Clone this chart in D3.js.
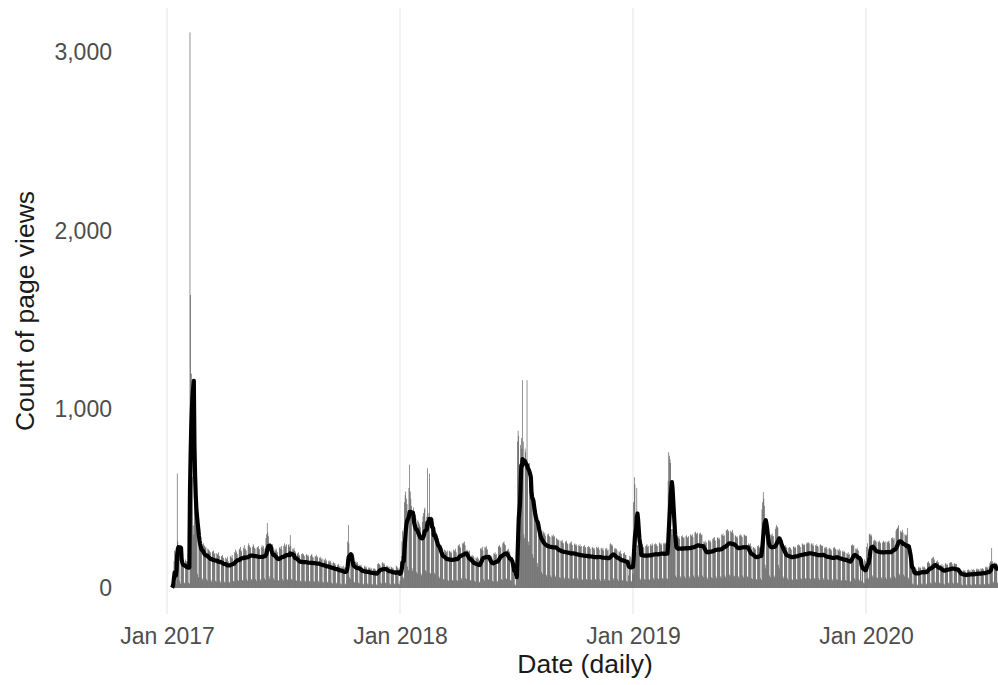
<!DOCTYPE html>
<html>
<head>
<meta charset="utf-8">
<script src="https://cdn.jsdelivr.net/npm/d3@7"></script>
<style>
  body { margin: 0; background: #fff; }
  svg { display: block; }
</style>
</head>
<body>
<svg id="chart" width="998" height="685"></svg>
<script>
// Daily page views. Each row below is one Monday-to-Sunday week,
// the first row starting on Monday 9 January 2017.
const firstDay = "2017-01-09";

const dailyViews2017 = [
  2, 15, 60, 150, 210, 30, 20,
  220, 640, 260, 220, 190, 40, 25,
  190, 170, 160, 150, 160, 30, 25,
  160, 150, 145, 150, 140, 30, 25,
  3110, 1640, 1200, 900, 620, 350, 300,
  560, 480, 420, 380, 330, 80, 60,
  300, 290, 280, 260, 240, 55, 45,
  250, 240, 235, 225, 230, 50, 40,
  220, 215, 210, 205, 200, 45, 35,
  205, 200, 210, 190, 195, 40, 35,
  195, 190, 185, 200, 180, 40, 30,
  180, 175, 185, 170, 165, 35, 30,
  170, 165, 160, 175, 150, 35, 30,
  175, 180, 170, 185, 165, 40, 35,
  200, 215, 195, 205, 190, 45, 40,
  215, 220, 230, 210, 205, 45, 40,
  225, 240, 215, 220, 210, 50, 40,
  235, 250, 240, 230, 225, 50, 45,
  230, 245, 235, 225, 220, 50, 40,
  225, 230, 235, 220, 215, 50, 40,
  230, 240, 225, 235, 220, 55, 45,
  280, 300, 364, 310, 290, 65, 50,
  250, 240, 235, 245, 230, 55, 45,
  215, 210, 220, 205, 200, 45, 40,
  225, 230, 220, 235, 215, 50, 40,
  235, 250, 240, 230, 245, 50, 45,
  240, 245, 230, 296, 235, 50, 45,
  220, 215, 225, 210, 205, 45, 40,
  195, 190, 200, 185, 180, 40, 35,
  190, 195, 185, 190, 180, 40, 35,
  185, 190, 180, 185, 175, 40, 35,
  180, 185, 190, 175, 170, 40, 35,
  180, 175, 185, 170, 175, 40, 30,
  170, 165, 175, 160, 165, 35, 30,
  160, 155, 165, 150, 155, 35, 30,
  150, 155, 145, 150, 140, 30, 25,
  140, 145, 135, 140, 130, 30, 25,
  130, 125, 135, 120, 125, 25, 20,
  120, 115, 125, 110, 115, 25, 20,
  140, 180, 260, 352, 250, 60, 50,
  170, 160, 155, 150, 145, 35, 30,
  145, 150, 140, 145, 135, 30, 25,
  130, 125, 130, 120, 115, 25, 20,
  120, 125, 115, 120, 110, 25, 20,
  115, 110, 115, 105, 110, 20, 20,
  110, 105, 110, 100, 105, 20, 15,
  135, 140, 130, 135, 125, 30, 25,
  140, 145, 135, 140, 130, 30, 25,
  125, 120, 125, 115, 120, 25, 20,
  120, 115, 110, 115, 105, 25, 20,
  100, 125, 120, 115, 110, 25, 20
];

const dailyViews2018 = [
  40, 150, 180, 260, 320, 60, 50,
  480, 520, 540, 500, 470, 120, 100,
  560, 690, 540, 500, 460, 110, 95,
  450, 430, 420, 410, 390, 90, 80,
  380, 370, 360, 350, 340, 80, 70,
  370, 400, 420, 440, 450, 100, 90,
  400, 670, 420, 390, 640, 85, 80,
  400, 390, 380, 370, 360, 85, 75,
  320, 310, 300, 290, 280, 65, 55,
  240, 235, 230, 225, 215, 50, 45,
  215, 210, 205, 200, 210, 45, 40,
  205, 210, 200, 205, 195, 45, 40,
  215, 210, 205, 220, 200, 45, 40,
  235, 240, 245, 230, 225, 55, 45,
  250, 255, 245, 260, 240, 55, 50,
  215, 210, 205, 200, 210, 45, 40,
  180, 185, 175, 180, 170, 40, 35,
  170, 165, 175, 160, 165, 35, 30,
  220, 225, 215, 230, 210, 50, 40,
  230, 225, 235, 220, 215, 50, 45,
  180, 185, 175, 180, 170, 40, 35,
  195, 190, 200, 185, 190, 40, 35,
  230, 235, 240, 225, 230, 50, 45,
  250, 255, 260, 245, 240, 55, 50,
  215, 210, 220, 205, 200, 45, 40,
  170, 160, 120, 80, 60, 20, 15,
  60, 70, 820, 880, 850, 330, 290,
  800, 840, 780, 1163, 820, 300, 280,
  780, 760, 720, 1163, 700, 260, 240,
  700, 660, 620, 560, 520, 190, 170,
  500, 480, 460, 440, 420, 140, 120,
  370, 350, 340, 330, 320, 90, 80,
  320, 310, 300, 310, 290, 75, 65,
  300, 295, 305, 290, 285, 70, 60,
  295, 290, 300, 285, 290, 70, 60,
  280, 275, 270, 265, 270, 60, 55,
  265, 260, 270, 255, 250, 60, 50,
  260, 255, 265, 250, 245, 55, 50,
  250, 255, 245, 260, 240, 55, 50,
  245, 250, 240, 245, 235, 55, 45,
  240, 235, 245, 230, 235, 50, 45,
  235, 230, 240, 225, 230, 50, 45,
  230, 235, 225, 230, 220, 50, 45,
  225, 230, 220, 225, 215, 50, 45,
  230, 225, 220, 230, 215, 50, 40,
  225, 220, 215, 225, 210, 50, 40,
  220, 215, 225, 210, 215, 45, 40,
  245, 250, 240, 245, 235, 55, 45,
  220, 225, 215, 220, 210, 50, 40,
  205, 200, 210, 195, 190, 45, 40,
  195, 190, 200, 185, 185, 40, 35,
  150, 70, 160, 180, 175, 40, 35
];

const dailyViews2019 = [
  160, 80, 480, 620, 580, 240, 200,
  560, 240, 235, 245, 230, 55, 45,
  240, 235, 245, 230, 225, 50, 45,
  235, 240, 245, 230, 235, 50, 45,
  240, 245, 235, 250, 240, 55, 45,
  245, 250, 240, 245, 235, 55, 50,
  250, 255, 245, 250, 240, 55, 50,
  250, 245, 255, 250, 245, 55, 50,
  600, 760, 740, 720, 700, 330, 300,
  330, 310, 290, 280, 270, 70, 60,
  290, 285, 280, 290, 275, 65, 55,
  290, 285, 295, 280, 285, 65, 55,
  290, 295, 280, 285, 290, 65, 55,
  300, 295, 290, 300, 285, 70, 60,
  310, 315, 305, 300, 310, 70, 60,
  305, 300, 310, 295, 300, 70, 60,
  260, 255, 265, 250, 255, 60, 50,
  265, 270, 260, 265, 255, 60, 55,
  275, 280, 270, 285, 265, 65, 55,
  280, 285, 275, 280, 270, 65, 55,
  300, 295, 305, 290, 295, 70, 60,
  325, 320, 330, 315, 320, 75, 65,
  320, 315, 310, 325, 305, 70, 65,
  290, 295, 285, 290, 280, 65, 55,
  295, 300, 290, 295, 285, 70, 60,
  300, 295, 290, 295, 290, 65, 60,
  250, 245, 240, 250, 235, 55, 50,
  225, 230, 220, 225, 215, 50, 45,
  235, 230, 240, 225, 230, 55, 45,
  440, 480, 537, 500, 460, 130, 110,
  320, 310, 300, 290, 280, 70, 60,
  300, 295, 305, 290, 290, 70, 60,
  330, 340, 352, 345, 335, 130, 110,
  290, 280, 285, 275, 270, 65, 55,
  235, 230, 240, 225, 230, 55, 45,
  225, 230, 220, 225, 215, 50, 45,
  230, 235, 225, 230, 225, 50, 45,
  240, 245, 235, 240, 230, 55, 50,
  245, 250, 240, 245, 240, 55, 50,
  250, 255, 245, 255, 250, 55, 50,
  245, 250, 240, 250, 235, 55, 50,
  240, 235, 245, 235, 230, 55, 45,
  240, 245, 235, 240, 235, 55, 45,
  225, 230, 220, 230, 220, 50, 45,
  220, 225, 215, 220, 210, 50, 40,
  225, 220, 230, 220, 215, 50, 45,
  215, 210, 220, 205, 210, 45, 40,
  205, 210, 200, 205, 200, 45, 40,
  195, 190, 200, 185, 190, 40, 35,
  240, 235, 245, 235, 240, 55, 45,
  220, 215, 225, 215, 210, 50, 40,
  180, 170, 40, 150, 140, 30, 25
];

const dailyViews2020 = [
  160, 150, 50, 230, 250, 60, 50,
  300, 305, 295, 300, 290, 70, 60,
  265, 270, 260, 265, 260, 60, 55,
  260, 255, 265, 255, 250, 60, 50,
  255, 265, 260, 255, 260, 60, 50,
  260, 255, 260, 265, 250, 60, 50,
  280, 275, 285, 270, 280, 65, 55,
  320, 330, 335, 340, 352, 80, 70,
  320, 315, 310, 325, 310, 75, 65,
  300, 295, 290, 300, 336, 60, 50,
  200, 170, 140, 110, 100, 25, 20,
  110, 105, 115, 100, 105, 20, 15,
  115, 120, 110, 115, 110, 25, 20,
  120, 115, 120, 115, 110, 25, 20,
  140, 145, 150, 140, 135, 30, 25,
  165, 170, 160, 175, 160, 35, 30,
  150, 145, 155, 140, 145, 30, 25,
  130, 125, 135, 120, 125, 25, 20,
  135, 140, 130, 135, 130, 30, 25,
  140, 145, 140, 145, 135, 30, 25,
  135, 140, 135, 130, 135, 30, 25,
  105, 100, 110, 100, 95, 20, 15,
  95, 100, 95, 100, 90, 20, 15,
  100, 105, 100, 95, 100, 20, 15,
  105, 100, 105, 100, 100, 20, 20,
  105, 110, 100, 105, 105, 20, 20,
  110, 105, 110, 110, 105, 20, 20,
  115, 120, 115, 110, 120, 25, 20,
  140, 150, 145, 224, 150, 35, 30,
  140, 145, 135, 140, 135, 30, 25
];

const yTickValues = [0, 1000, 2000, 3000];
const xTickDates = ["2017-01-01", "2018-01-01", "2019-01-01", "2020-01-01"];
const rollingWindow = 7;   // trailing mean, in days

const parseDay = d3.utcParse("%Y-%m-%d");
const allViews = [].concat(dailyViews2017, dailyViews2018, dailyViews2019, dailyViews2020);
const start = parseDay(firstDay);
const data = allViews.map((v, i) => ({ date: d3.utcDay.offset(start, i), value: v }));
data.forEach((d, i) => {
  const lo = Math.max(0, i - rollingWindow + 1);
  d.mean = d3.mean(data.slice(lo, i + 1), e => e.value);
});

const svg = d3.select("#chart");
const panel = { top: 8, bottom: 614, left: 120, right: 998 };

const x = d3.scaleUtc()
  .domain([parseDay(xTickDates[0]), parseDay(xTickDates[3])])
  .range([167, 866]);
const y = d3.scaleLinear().domain([0, 3000]).range([588, 52]);

const dayWidth = x(d3.utcDay.offset(start, 1)) - x(start);
const tickFont = "'Liberation Sans', Arial, Helvetica, sans-serif";

// vertical year gridlines
svg.append("g")
  .selectAll("line")
  .data(xTickDates.map(parseDay))
  .join("line")
  .attr("x1", d => x(d)).attr("x2", d => x(d))
  .attr("y1", panel.top).attr("y2", panel.bottom)
  .attr("stroke", "#e8e8e8")
  .attr("stroke-width", 1.1);

// daily bars
svg.append("g")
  .selectAll("rect")
  .data(data)
  .join("rect")
  .attr("x", d => x(d.date) - dayWidth * 0.45)
  .attr("width", dayWidth * 0.9)
  .attr("y", d => y(d.value))
  .attr("height", d => y(0) - y(d.value))
  .attr("fill", "#444444");

// rolling mean line
svg.append("path")
  .datum(data)
  .attr("fill", "none")
  .attr("stroke", "#000")
  .attr("stroke-width", 4.2)
  .attr("stroke-linejoin", "round")
  .attr("d", d3.line().x(d => x(d.date)).y(d => y(d.mean)));

// axes
const xAxis = svg.append("g")
  .attr("transform", `translate(0,${panel.bottom})`)
  .call(d3.axisBottom(x)
    .tickValues(xTickDates.map(parseDay))
    .tickFormat(d3.utcFormat("%b %Y"))
    .tickSize(0)
    .tickPadding(14));

const yAxis = svg.append("g")
  .attr("transform", `translate(${panel.left},0)`)
  .call(d3.axisLeft(y)
    .tickValues(yTickValues)
    .tickFormat(d3.format(","))
    .tickSize(0)
    .tickPadding(8));

[xAxis, yAxis].forEach(g => {
  g.select(".domain").remove();
  g.selectAll("text")
    .attr("fill", "#4d4d4d")
    .style("font-family", tickFont)
    .style("font-size", "23px");
});

// axis titles
svg.append("text")
  .attr("x", 585).attr("y", 664)
  .attr("text-anchor", "middle")
  .attr("dominant-baseline", "central")
  .style("font-family", tickFont)
  .style("font-size", "26.5px")
  .attr("fill", "#1a1a1a")
  .text("Date (daily)");

svg.append("text")
  .attr("transform", "translate(25,311) rotate(-90)")
  .attr("text-anchor", "middle")
  .attr("dominant-baseline", "central")
  .style("font-family", tickFont)
  .style("font-size", "26.5px")
  .attr("fill", "#1a1a1a")
  .text("Count of page views");
</script>
</body>
</html>
